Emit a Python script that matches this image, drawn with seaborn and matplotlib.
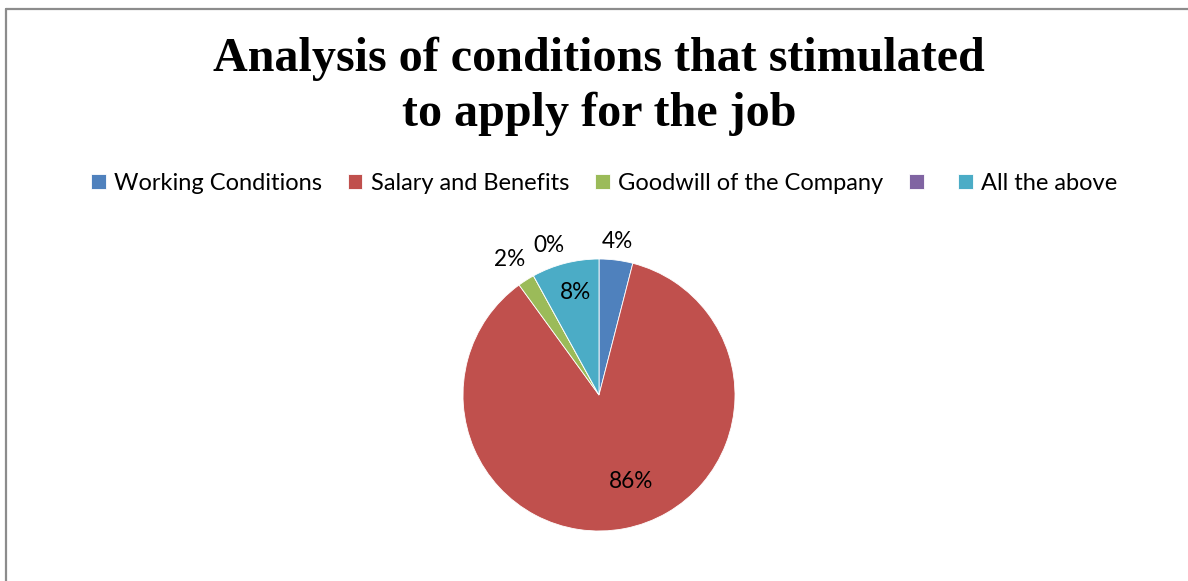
import matplotlib
matplotlib.use("Agg")
import matplotlib.pyplot as plt
import seaborn as sns
import numpy as np

# Survey shares (%) of the conditions that led applicants to apply
categories = ["Working Conditions", "Salary and Benefits", "Goodwill of the Company", "", "All the above"]
shares = [4, 86, 2, 0, 8]
pct_labels = ["4%", "86%", "2%", "0%", "8%"]
colors = ["#4F81BD", "#C0504D", "#9BBB59", "#8064A2", "#4BACC6"]

sns.set_theme(style="white")
plt.rcParams["font.family"] = ["Lato", "DejaVu Sans"]
plt.rcParams["text.color"] = "black"

W, H = 1188, 581
fig = plt.figure(figsize=(W / 100, H / 100), dpi=100)
fig.patch.set_facecolor("white")

# chart frame (open to the right and bottom)
fig.add_artist(plt.Line2D([6 / W, 6 / W], [-0.1, 1 - 8.5 / H], transform=fig.transFigure,
                          color="#8c8c8c", lw=1.6))
fig.add_artist(plt.Line2D([6 / W, 1.1], [1 - 8.5 / H, 1 - 8.5 / H], transform=fig.transFigure,
                          color="#8c8c8c", lw=1.6))

# pie axes
cx, cy, r = 599, 395, 136
ax = fig.add_axes([(cx - r) / W, 1 - (cy + r) / H, 2 * r / W, 2 * r / H])
wedges, _ = ax.pie(shares, colors=colors, startangle=90, counterclock=False,
                   radius=1, wedgeprops=dict(edgecolor="white", linewidth=0.6))
ax.set_xlim(-1, 1)
ax.set_ylim(-1, 1)
ax.set_aspect("equal")
ax.axis("off")

# data labels: radial distance and angle (degrees) of each label
label_layout = [(1.14, 83.3), (0.68, -69.8), (1.19, 123.4), (1.16, 108.4), (0.77, 102.7)]
for txt, (dist, ang) in zip(pct_labels, label_layout):
    a = np.deg2rad(ang)
    ax.text(dist * np.cos(a), dist * np.sin(a), txt, ha="center", va="center",
            fontsize=16.3, color="black", clip_on=False)

for line, yc in [("Analysis of conditions that stimulated", 59), ("to apply for the job", 114)]:
    fig.text(cx / W, 1 - yc / H, line, ha="center", va="center", fontsize=34.6,
             fontweight="bold", family="Liberation Serif", color="black")

leg = fig.legend(wedges, categories, loc="center", bbox_to_anchor=(604 / W, 1 - 183 / H),
                 ncol=5, frameon=False, fontsize=17, handlelength=0.62, handleheight=0.62,
                 handletextpad=0.35, columnspacing=1.1, borderpad=0)
for t in leg.get_texts():
    t.set_color("black")

fig.savefig("out.png", dpi=100, facecolor="white")
